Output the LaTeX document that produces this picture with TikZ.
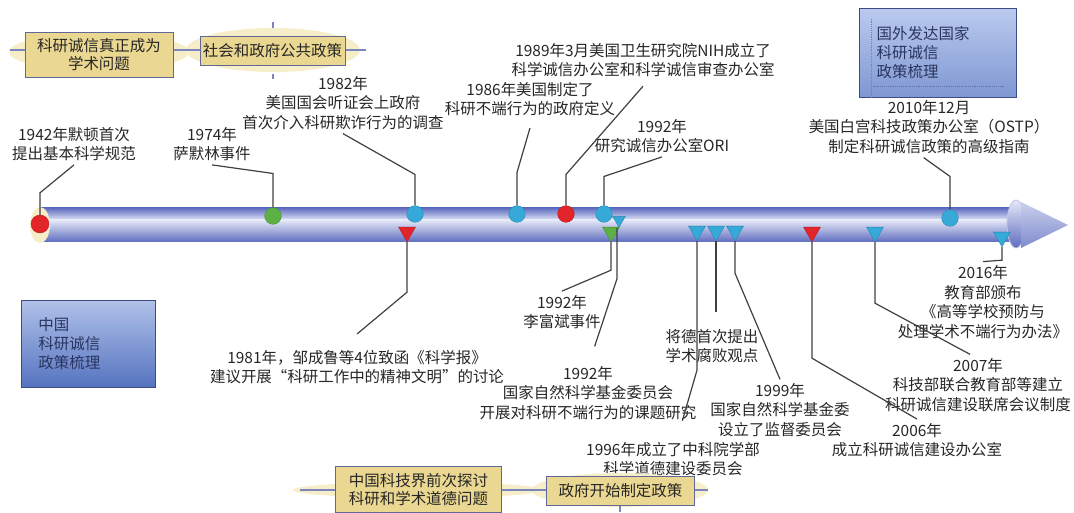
\documentclass[tikz,border=0pt]{standalone}
\usepackage{fontspec}
\setmainfont{Noto Sans CJK SC}
\usepackage{tikz}
\usetikzlibrary{positioning, shapes.geometric}

\definecolor{barblue}{HTML}{5F6DC0}
\definecolor{barlight}{HTML}{E4E8F7}
\definecolor{dotblue}{HTML}{36A9D9}
\definecolor{dotgreen}{HTML}{5CB145}
\definecolor{dotred}{HTML}{E1252B}
\definecolor{boxyellow}{HTML}{EAD791}
\definecolor{glowyellow}{HTML}{F6EEC8}
\definecolor{boxedge}{HTML}{62679A}
\definecolor{linkblue}{HTML}{7D85BD}
\definecolor{paneltop}{HTML}{BBCAEE}
\definecolor{panelbot}{HTML}{7E97D2}
\definecolor{paneldark}{HTML}{5573BF}
\definecolor{paneledge}{HTML}{3C4A86}
\definecolor{paneltext}{HTML}{2A3560}

\begin{document}
\begin{tikzpicture}[x=0.75pt, y=-0.75pt,
    txt/.style={align=center, inner sep=0pt, outer sep=3pt, text=black!85,
      font=\fontsize{11.6}{14.6}\selectfont},
    dot/.style={circle, minimum size=12.5pt, inner sep=0pt, fill=#1, draw=#1!80!black, line width=0.3pt},
    tri/.style={regular polygon, regular polygon sides=3, shape border rotate=180,
      minimum size=14.7pt, inner sep=0pt, fill=#1, draw=#1!80!black, line width=0.3pt},
    lead/.style={draw=black!75, line width=0.9pt},
    ybox/.style={rectangle, fill=boxyellow, draw=boxedge, line width=0.7pt, inner sep=0pt,
      align=center, text=black!85, font=\fontsize{11.6}{13.5}\selectfont},
    bbox/.style={rectangle, draw=paneledge, line width=0.6pt, inner ysep=0pt, inner xsep=13pt,
      align=left, text=paneltext, top color=paneltop, bottom color=#1,
      font=\fontsize{11.6}{14.2}\selectfont},
    glow/.style={fill=glowyellow}]

    % keep the page size of the reference
    \useasboundingbox (0,0) rectangle (1074,513);

    % the timeline bar
    \shade[top color=barblue, bottom color=barlight] (40,208) rectangle (1012,220.5);
    \shade[top color=barlight, bottom color=barblue] (40,220) rectangle (1012,242);
    \fill[glow] (40,225) ellipse [x radius=10, y radius=18];

    % the arrow head
    \shade[top color=barlight, bottom color=barblue, draw=white!60!barblue, line width=0.6pt]
      (1016,224) ellipse [x radius=9, y radius=24];
    \shade[top color=barlight!80!barblue, middle color=white!85!barblue, bottom color=barblue!80]
      (1021,202) -- (1068,225) -- (1021,248) -- cycle;

    % events above the bar
    \node[dot=dotred, minimum size=13.5pt] (d42) at (40,224) {};
    \node[dot=dotgreen] (d74) at (273,216) {};
    \node[dot=dotblue] (d82) at (415,214) {};
    \node[dot=dotblue] (d86) at (517,214) {};
    \node[dot=dotred] (d89) at (566,214) {};
    \node[dot=dotblue] (d92o) at (604,214) {};
    \node[dot=dotblue] (d10) at (950,218) {};

    % events below the bar
    \node[tri=dotblue, minimum size=11pt] (v92s) at (619,220) {};
    \node[tri=dotred] (v81) at (407,232) {};
    \node[tri=dotgreen] (v92l) at (611,232) {};
    \node[tri=dotblue] (v96) at (697,231) {};
    \node[tri=dotblue] (vjd) at (716,231) {};
    \node[tri=dotblue] (v99) at (735,231) {};
    \node[tri=dotred] (v06) at (812,232) {};
    \node[tri=dotblue] (v07) at (875,232) {};
    \node[tri=dotblue] (v16) at (1002,237) {};

    % labels above the bar
    \node[txt] (t42) at (74,144) {1942年默顿首次\\提出基本科学规范};
    \node[txt] (t74) at (212,144) {1974年\\萨默林事件};
    \node[txt] (t82) at (343,103) {1982年\\美国国会听证会上政府\\首次介入科研欺诈行为的调查};
    \node[txt] (t86) at (530,99) {1986年美国制定了\\科研不端行为的政府定义};
    \node[txt] (t89) at (643,60) {1989年3月美国卫生研究院NIH成立了\\科学诚信办公室和科学诚信审查办公室};
    \node[txt] (t92o) at (662,136) {1992年\\研究诚信办公室ORI};
    \node[txt] (t10) at (929,127) {2010年12月\\美国白宫科技政策办公室（OSTP）\\制定科研诚信政策的高级指南};

    % labels below the bar
    \node[txt] (t81) at (357,367) {1981年，邹成鲁等4位致函《科学报》\\建议开展“科研工作中的精神文明”的讨论};
    \node[txt] (t92l) at (562,312) {1992年\\李富斌事件};
    \node[txt] (t92n) at (588,393) {1992年\\国家自然科学基金委员会\\开展对科研不端行为的课题研究};
    \node[txt] (t96) at (673,459) {1996年成立了中科院学部\\科学道德建设委员会};
    \node[txt] (tjd) at (712,346) {将德首次提出\\学术腐败观点};
    \node[txt] (t99) at (780,410) {1999年\\国家自然科学基金委\\设立了监督委员会};
    \node[txt] (t06) at (917,440) {2006年\\成立科研诚信建设办公室};
    \node[txt] (t07) at (978,385) {2007年\\科技部联合教育部等建立\\科研诚信建设联席会议制度};
    \node[txt] (t16) at (983,302) {2016年\\教育部颁布\\《高等学校预防与\\处理学术不端行为办法》};

    % leaders up
    \draw[lead] (d42.north) -- ++(0,-22) -- (t42.south);
    \draw[lead] (d74.north) -- ++(0,-34) -- (t74.south);
    \draw[lead] (d82.north) -- ++(0,-31) -- (t82.south);
    \draw[lead] (d86.north) -- ++(0,-33) -- ([yshift=-6pt]t86.south);
    \draw[lead] (d89.north) -- ++(0,-31) -- ([yshift=-4pt]t89.south);
    \draw[lead] (d92o.north) -- ++(0,-29) -- (t92o.south);
    \draw[lead] (d10.north) -- ++(0,-33) -- ([xshift=-4pt]t10.south);

    % leaders down
    \draw[lead] (v81.south) -- ++(0,50) -- ([yshift=9pt]t81.north);
    \draw[lead] (v92l.south) -- ++(0,28) -- (t92l.north);
    \draw[lead] ([xshift=-1.5pt]v92s.south) -- ++(0,51) -- ([xshift=5pt,yshift=12pt]t92n.north);
    \draw[lead] (v96.south) -- ++(0,129) -- ([xshift=7pt,yshift=13pt]t96.north);
    \draw[lead] (vjd.south) -- ([xshift=3pt,yshift=10pt]tjd.north);
    \draw[lead] (v99.south) -- ++(0,32) -- (t99.north);
    \draw[lead] (v06.south) -- ++(0,116) -- (t06.north);
    \draw[lead] (v07.south) -- ++(0,61) -- ([xshift=-6pt]t07.north);
    \draw[lead] (v16.south) -- ++(0,13) -- (t16.north);

    % stage boxes at the top
    \fill[glow] (99,52) ellipse [x radius=90, y radius=19];
    \fill[glow] (273,50) ellipse [x radius=87, y radius=22];
    \coordinate (la) at (10,50);
    \coordinate (lb) at (366,50);
    \draw[linkblue, line width=0.8pt] (la) -- (lb);
    \draw[linkblue, line width=0.8pt] (273,22) -- (273,28) (273,74) -- (273,79);
    \node[ybox, minimum width=111pt, minimum height=33.75pt] (bxa) at (99,54.5) {科研诚信真正成为\\学术问题};
    \node[ybox, minimum width=108.75pt, minimum height=21.5pt] (bxb) at (272.5,51) {社会和政府公共政策};

    % stage boxes at the bottom
    \fill[glow] (418,490) ellipse [x radius=125, y radius=8];
    \fill[glow] (620,490) ellipse [x radius=88, y radius=17];
    \coordinate (lc) at (300,490);
    \coordinate (ld) at (708,490);
    \draw[linkblue, line width=0.8pt] (lc) -- (ld);
    \draw[linkblue, line width=0.8pt] (620,506) -- (620,512);
    \node[ybox, minimum width=125pt, minimum height=34.5pt] (bxc) at (418.5,489.5) {中国科技界前次探讨\\科研和学术道德问题};
    \node[ybox, minimum width=111.5pt, minimum height=21.75pt] (bxd) at (620.5,490.5) {政府开始制定政策};

    % the two overview boxes
    \node[bbox=panelbot, text width=92pt, minimum height=66.75pt] (bxe) at (938,53) {国外发达国家\\科研诚信\\政策梳理};
    \draw[densely dotted, paneledge!70] ([xshift=9pt,yshift=-8pt]bxe.north west) -- ([xshift=9pt]bxe.south west);
    \draw[densely dotted, paneledge!80] ([xshift=9pt,yshift=9pt]bxe.south west) -- ([xshift=-9pt,yshift=9pt]bxe.south east);
    \node[bbox=paneldark, top color=paneltop!90!paneldark, text width=75pt, minimum height=65.25pt,
      inner xsep=13pt] (bxf) at (88.5,343.5) {中国\\科研诚信\\政策梳理};

  \end{tikzpicture}
\end{document}
